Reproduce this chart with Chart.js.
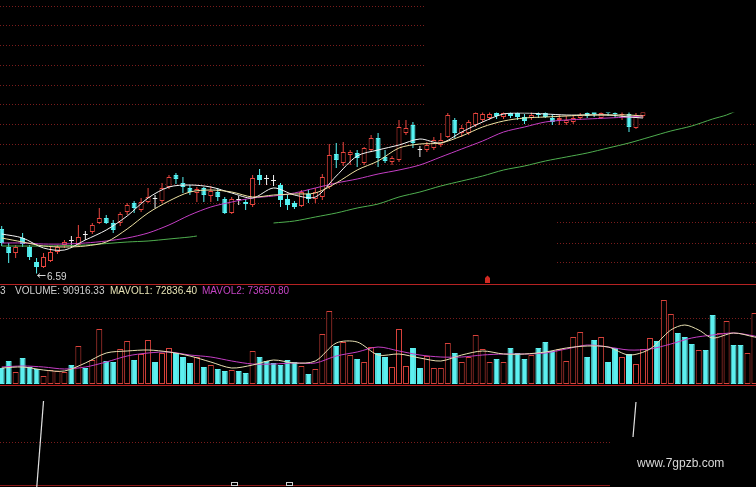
<!DOCTYPE html>
<html>
<head>
<meta charset="utf-8">
<script src="https://cdn.jsdelivr.net/npm/chart.js@4.4.1/dist/chart.umd.min.js"></script>
<style>
  html, body { margin: 0; padding: 0; background: #000; }
  #wrap { position: relative; width: 756px; height: 487px; overflow: hidden; background: #000; }
  canvas { position: absolute; left: 0; display: block; }
</style>
</head>
<body>
<div id="wrap">
  <canvas id="kline" width="756" height="284" style="top:0px"></canvas>
  <canvas id="vol" width="756" height="102" style="top:284px"></canvas>
  <canvas id="ind" width="756" height="101" style="top:386px"></canvas>
</div>
<script>
// ---- daily bars (day 0 = first bar on the left) ----
const openPx = [
  7.48, 7.12, 7.00, 7.30, 7.12, 6.82, 6.72, 6.84, 7.02, 7.16,
  7.24, 7.16, 7.36, 7.42, 7.60, 7.70, 7.60, 7.60, 7.82, 8.00,
  7.86, 8.02, 8.08, 8.04, 8.32, 8.56, 8.40, 8.30, 8.20, 8.30,
  8.14, 8.22, 8.08, 7.80, 8.06, 8.02, 7.96, 8.56, 8.48, 8.44,
  8.36, 8.08, 8.00, 7.94, 8.18, 8.08, 8.12, 8.32, 8.98, 8.80,
  8.96, 9.00, 8.80, 9.06, 9.30, 8.92, 8.82, 8.86, 9.40, 9.56,
  9.06, 9.06, 9.10, 9.16, 9.32, 9.66, 9.40, 9.40, 9.56, 9.66,
  9.70, 9.80, 9.72, 9.80, 9.80, 9.72, 9.70, 9.78, 9.80, 9.70,
  9.66, 9.60, 9.62, 9.70, 9.80, 9.82, 9.70, 9.84, 9.80, 9.76,
  9.78, 9.50, 9.74
];
const highPx = [
  7.54, 7.20, 7.16, 7.40, 7.16, 6.90, 7.00, 7.12, 7.16, 7.26,
  7.34, 7.56, 7.44, 7.60, 7.90, 7.76, 7.66, 7.82, 8.00, 8.04,
  8.10, 8.30, 8.16, 8.40, 8.56, 8.60, 8.52, 8.36, 8.32, 8.32,
  8.34, 8.30, 8.12, 8.12, 8.14, 8.08, 8.56, 8.68, 8.56, 8.56,
  8.40, 8.16, 8.04, 8.26, 8.26, 8.30, 8.58, 9.18, 9.20, 9.22,
  9.06, 9.06, 9.12, 9.36, 9.40, 9.06, 8.94, 9.66, 9.66, 9.62,
  9.14, 9.22, 9.32, 9.40, 9.80, 9.70, 9.56, 9.66, 9.82, 9.84,
  9.86, 9.86, 9.86, 9.86, 9.86, 9.78, 9.82, 9.84, 9.86, 9.76,
  9.76, 9.74, 9.76, 9.80, 9.86, 9.90, 9.86, 9.90, 9.88, 9.86,
  9.82, 9.80, 9.86
];
const lowPx = [
  7.14, 6.80, 6.90, 7.12, 6.86, 6.59, 6.70, 6.82, 6.98, 7.10,
  7.10, 7.14, 7.26, 7.38, 7.58, 7.58, 7.40, 7.54, 7.76, 7.80,
  7.82, 8.00, 7.90, 8.00, 8.28, 8.38, 8.20, 8.16, 8.02, 8.02,
  8.02, 8.04, 7.78, 7.78, 7.96, 7.86, 7.92, 8.36, 8.36, 8.34,
  7.92, 7.86, 7.88, 7.92, 8.00, 8.00, 8.06, 8.28, 8.70, 8.74,
  8.76, 8.72, 8.76, 9.02, 8.72, 8.80, 8.76, 8.82, 9.36, 9.10,
  8.92, 9.02, 9.06, 9.12, 9.30, 9.30, 9.32, 9.36, 9.52, 9.62,
  9.66, 9.68, 9.68, 9.70, 9.66, 9.58, 9.66, 9.70, 9.70, 9.56,
  9.56, 9.56, 9.58, 9.66, 9.70, 9.72, 9.68, 9.74, 9.70, 9.66,
  9.42, 9.48, 9.70
];
const closePx = [
  7.20, 7.00, 7.12, 7.18, 6.92, 6.72, 6.92, 7.02, 7.12, 7.22,
  7.24, 7.32, 7.36, 7.56, 7.70, 7.60, 7.46, 7.78, 7.96, 7.90,
  8.02, 8.12, 8.08, 8.30, 8.52, 8.48, 8.32, 8.22, 8.28, 8.16,
  8.24, 8.12, 7.80, 8.08, 8.06, 7.98, 8.50, 8.46, 8.48, 8.44,
  8.06, 7.96, 7.92, 8.22, 8.08, 8.22, 8.52, 8.96, 8.86, 9.02,
  9.02, 8.90, 9.10, 9.30, 8.90, 8.84, 8.90, 9.52, 9.50, 9.20,
  9.06, 9.16, 9.26, 9.26, 9.76, 9.40, 9.50, 9.62, 9.80, 9.78,
  9.78, 9.74, 9.80, 9.74, 9.72, 9.64, 9.76, 9.76, 9.72, 9.62,
  9.70, 9.66, 9.70, 9.76, 9.74, 9.78, 9.80, 9.80, 9.78, 9.78,
  9.52, 9.76, 9.82
];

// ---- price moving averages, sampled on these days ----
const maDays = [0, 3, 6, 9, 12, 15, 18, 21, 24, 27, 30, 33, 36, 39, 42, 45,
                48, 51, 54, 57, 60, 63, 66, 69, 72, 75, 78, 81, 84, 87, 90, 92];
const ma5 = [7.38, 7.30, 7.10, 7.06, 7.26, 7.46, 7.74, 8.10, 8.32, 8.36, 8.32, 8.20, 8.10, 8.30, 8.16, 8.12,
             8.54, 8.94, 9.06, 9.16, 9.28, 9.20, 9.42, 9.62, 9.78, 9.80, 9.78, 9.76, 9.76, 9.76, 9.72, 9.70];
const ma10 = [7.30, 7.22, 7.14, 7.12, 7.14, 7.22, 7.48, 7.80, 8.04, 8.22, 8.26, 8.22, 8.12, 8.16, 8.18, 8.20,
              8.40, 8.66, 8.84, 9.10, 9.18, 9.20, 9.34, 9.52, 9.64, 9.70, 9.72, 9.74, 9.76, 9.76, 9.76, 9.74];
const ma30 = [7.20, 7.20, 7.18, 7.18, 7.20, 7.24, 7.30, 7.40, 7.56, 7.76, 7.92, 8.02, 8.10, 8.14, 8.20, 8.30,
              8.40, 8.48, 8.58, 8.66, 8.76, 8.92, 9.08, 9.24, 9.42, 9.52, 9.62, 9.66, 9.68, 9.70, 9.72, 9.74];
const ma60aDays = [0, 6, 12, 18, 21, 24, 27, 28];
const ma60a = [7.14, 7.14, 7.16, 7.22, 7.24, 7.28, 7.32, 7.34];
const ma60bDays = [39, 42, 45, 48, 51, 54, 57, 60, 63, 66, 69, 72, 75, 78, 81, 84, 87, 90, 93, 96, 99, 102, 104, 106];
const ma60b = [7.60, 7.64, 7.72, 7.80, 7.90, 7.98, 8.12, 8.22, 8.34, 8.44, 8.54, 8.66, 8.74, 8.84, 8.92, 9.00,
               9.10, 9.20, 9.32, 9.44, 9.54, 9.68, 9.76, 9.88];

// price grid levels
const priceGrid = [11.94, 11.55, 11.15, 10.76, 10.36, 9.97, 9.58, 9.18, 8.79, 8.39, 8.00, 7.61, 7.21, 6.82];

// ---- volume (last entry is the bar under the readout) ----
const volume = [
  25600, 36800, 19200, 41600, 27200, 24000, 12800, 22400, 20800, 19200,
  30400, 60800, 25600, 38400, 88000, 36800, 35200, 56000, 68800, 38400,
  48000, 70400, 35200, 49600, 57600, 49600, 43200, 33600, 43200, 27200,
  30400, 24000, 20800, 22400, 20800, 17600, 52800, 43200, 36800, 33600,
  30400, 38400, 35200, 28800, 16000, 24000, 80000, 116800, 60800, 67200,
  46400, 40000, 35200, 59200, 49600, 43200, 27200, 88000, 28800, 57600,
  25600, 44800, 25600, 25600, 65600, 49600, 35200, 43200, 78400, 56000,
  35200, 40000, 35200, 57600, 49600, 40000, 46400, 57600, 67200, 52800,
  56000, 36800, 75200, 83200, 43200, 70400, 75200, 35200, 57600, 43200,
  48000, 32000, 56000, 73600, 68800, 134400, 112000, 81600, 75200, 64000,
  54400, 54400, 110400, 81600, 100800, 62400, 62400, 49600, 113600, 90916.33
];
// 1 = up day (hollow red), -1 = down day (solid cyan)
const volDir = [
  -1, -1, 1, -1, -1, -1, 1, 1, 1, 1,
  -1, 1, -1, 1, 1, -1, -1, 1, 1, -1,
  1, 1, -1, 1, 1, -1, -1, -1, 1, -1,
  1, -1, -1, 1, -1, -1, 1, -1, -1, -1,
  -1, -1, -1, 1, -1, 1, 1, 1, -1, 1,
  1, -1, 1, 1, -1, -1, 1, 1, 1, -1,
  -1, 1, 1, 1, 1, -1, 1, 1, 1, 1,
  1, -1, 1, -1, -1, -1, 1, -1, -1, -1,
  1, 1, 1, 1, -1, -1, 1, -1, -1, 1,
  -1, 1, 1, 1, -1, 1, 1, -1, -1, -1,
  1, -1, -1, 1, 1, -1, -1, 1, 1, 1
];
const mavol1Days = [0, 3, 6, 9, 12, 15, 18, 21, 24, 27, 30, 33, 36, 39, 42, 45, 48, 51, 54,
                    57, 60, 63, 66, 69, 72, 75, 78, 81, 84, 87, 90, 93, 96, 98, 100, 102, 105, 108, 109];
const mavol1 = [25600, 27200, 22400, 20800, 33600, 49600, 52800, 54400, 51200, 44800, 35200, 25600, 30400,
                38400, 33600, 36800, 65600, 67200, 46400, 48000, 41600, 36800, 46400, 52800, 48000, 48000,
                51200, 57600, 60800, 59200, 46400, 56000, 86400, 94400, 86400, 73600, 81600, 75200, 72836.40];
const mavol2Days = [0, 3, 6, 9, 12, 15, 18, 21, 24, 27, 30, 33, 36, 39, 42, 45, 48, 51, 54,
                    57, 60, 63, 66, 69, 72, 75, 78, 81, 84, 87, 90, 93, 96, 99, 102, 105, 108, 109];
const mavol2 = [27200, 28800, 27200, 24000, 27200, 35200, 44800, 49600, 51200, 46400, 43200, 36800, 32000,
                32000, 33600, 33600, 44800, 51200, 59200, 52800, 46400, 43200, 43200, 46400, 48000, 48000,
                49600, 56000, 62400, 59200, 54400, 56000, 64000, 73600, 78400, 81600, 76800, 73650.80];

// ---- lower indicator pane: the two visible legs of its line ----
const indDaysA = [5, 6];
const indA = [-53, 35.1];
const indDaysB = [90, 91];
const indB = [-47, 34.2];

// ================= drawing =================
const X_MIN = -0.244, X_MAX = 108.22;
const RED = '#e8453e', CYAN = '#55f2f2', DOJI = '#f0f0f0';
const VRED = '#d8423b', VCYAN = '#5cf0f0';
const GRID = '#7a1c1c';
const FONT = '"Liberation Sans", Arial, sans-serif';

const pts = (xs, ys) => xs.map((x, k) => ({ x: x, y: ys[k] }));
const days = openPx.map((_, i) => i);

function candleColor(i) {
  if (closePx[i] > openPx[i]) return RED;
  if (closePx[i] < openPx[i]) return CYAN;
  return DOJI;
}

function dotted(ctx, x0, x1, y, color) {
  ctx.save();
  ctx.strokeStyle = color;
  ctx.lineWidth = 1;
  ctx.setLineDash([1, 2]);
  ctx.beginPath();
  ctx.moveTo(x0, Math.round(y) + 0.5);
  ctx.lineTo(x1, Math.round(y) + 0.5);
  ctx.stroke();
  ctx.restore();
}

const hiddenAxis = (min, max) => ({ type: 'linear', min: min, max: max, display: false, offset: false });
const baseOptions = (ymin, ymax) => ({
  responsive: false,
  animation: false,
  devicePixelRatio: 1,
  events: [],
  layout: { padding: 0 },
  plugins: { legend: { display: false }, tooltip: { enabled: false } },
  scales: { x: hiddenAxis(X_MIN, X_MAX), y: hiddenAxis(ymin, ymax) }
});
const maLine = (data, color, order) => ({
  type: 'line', data: data, borderColor: color, borderWidth: 1,
  pointRadius: 0, tension: 0.3, order: order, spanGaps: false
});

// ---- price pane ----
new Chart(document.getElementById('kline'), {
  type: 'bar',
  data: {
    datasets: [
      {
        type: 'bar', order: 3, grouped: false, barThickness: 1, inflateAmount: 0,
        data: days.map(i => ({ x: i, y: [lowPx[i], highPx[i]] })),
        backgroundColor: c => candleColor(c.dataIndex), borderWidth: 0
      },
      {
        type: 'bar', order: 2, grouped: false, barThickness: 5, minBarLength: 1, inflateAmount: 0,
        data: days.map(i => ({ x: i, y: [openPx[i], closePx[i]] })),
        backgroundColor: c => candleColor(c.dataIndex) === RED ? '#000000' : candleColor(c.dataIndex),
        borderColor: c => candleColor(c.dataIndex),
        borderWidth: 1, borderSkipped: false
      },
      maLine(pts(ma60aDays, ma60a), '#4fae4f', 1),
      maLine(pts(ma60bDays, ma60b), '#4fae4f', 1),
      maLine(pts(maDays, ma30), '#c43ec4', 1),
      maLine(pts(maDays, ma10), '#eee2a2', 0),
      maLine(pts(maDays, ma5), '#f4f4f4', 0)
    ]
  },
  options: baseOptions(6.38, 12.06),
  plugins: [{
    id: 'priceDecor',
    beforeDatasetsDraw(chart) {
      const ctx = chart.ctx, y = chart.scales.y;
      priceGrid.forEach(v => {
        const py = y.getPixelForValue(v);
        if (py < 112) dotted(ctx, 0, 425, py, GRID);
        else if (py < 212) dotted(ctx, 0, 756, py, GRID);
        else dotted(ctx, 557, 756, py, GRID);
      });
    },
    afterDatasetsDraw(chart) {
      const ctx = chart.ctx, x = chart.scales.x, y = chart.scales.y;
      ctx.save();
      // blank upper-right block
      ctx.fillStyle = '#000';
      ctx.fillRect(425, 0, 331, 112.5);

      // lowest low marker
      const lowVal = Math.min(...lowPx);
      const li = lowPx.indexOf(lowVal);
      const px = x.getPixelForValue(li), py = y.getPixelForValue(lowVal);
      ctx.strokeStyle = '#d8d8d8';
      ctx.lineWidth = 1;
      ctx.beginPath();
      ctx.moveTo(px + 1, py + 2); ctx.lineTo(px + 9, py + 2);
      ctx.moveTo(px + 1, py + 2); ctx.lineTo(px + 3.5, py);
      ctx.moveTo(px + 1, py + 2); ctx.lineTo(px + 3.5, py + 4);
      ctx.stroke();
      ctx.fillStyle = '#d8d8d8';
      ctx.font = '10px ' + FONT;
      ctx.textBaseline = 'alphabetic';
      ctx.fillText(lowVal.toFixed(2), px + 10.5, py + 6);

      // small red flag above the pane divider
      ctx.fillStyle = '#d02a22';
      ctx.beginPath();
      ctx.moveTo(485, 283); ctx.lineTo(485, 278); ctx.lineTo(487.5, 275.5);
      ctx.lineTo(490, 278); ctx.lineTo(490, 283); ctx.closePath();
      ctx.fill();
      ctx.restore();
    }
  }]
});

// ---- volume pane ----
new Chart(document.getElementById('vol'), {
  type: 'bar',
  data: {
    datasets: [
      {
        type: 'bar', order: 1, grouped: false, barThickness: 6, inflateAmount: 0,
        data: volume.map((v, i) => ({ x: i, y: v })),
        backgroundColor: c => volDir[c.dataIndex] > 0 ? '#000000' : VCYAN,
        borderColor: c => volDir[c.dataIndex] > 0 ? VRED : VCYAN,
        borderWidth: 1, borderSkipped: false
      },
      maLine(pts(mavol1Days, mavol1), '#e8e0b2', 0),
      maLine(pts(mavol2Days, mavol2), '#c43ec4', 0)
    ]
  },
  options: baseOptions(-3200, 160000),
  plugins: [{
    id: 'volDecor',
    beforeDatasetsDraw(chart) {
      const ctx = chart.ctx, y = chart.scales.y;
      dotted(ctx, 0, 756, y.getPixelForValue(105600), GRID);
    },
    afterDatasetsDraw(chart) {
      const ctx = chart.ctx;
      ctx.save();
      ctx.strokeStyle = '#b52222';
      ctx.lineWidth = 1;
      ctx.beginPath();
      ctx.moveTo(0, 0.5); ctx.lineTo(756, 0.5);
      ctx.moveTo(0, 101.5); ctx.lineTo(756, 101.5);
      ctx.stroke();

      ctx.font = '10px ' + FONT;
      ctx.textBaseline = 'alphabetic';
      ctx.fillStyle = '#cfcfcf';
      ctx.fillText('3', 0, 10);
      ctx.fillText('VOLUME: ' + volume[volume.length - 1].toFixed(2), 15, 10);
      ctx.fillStyle = '#e6e2b4';
      ctx.fillText('MAVOL1: ' + mavol1[mavol1.length - 1].toFixed(2), 110, 10);
      ctx.fillStyle = '#c444c4';
      ctx.fillText('MAVOL2: ' + mavol2[mavol2.length - 1].toFixed(2), 202, 10);
      ctx.restore();
    }
  }]
});

// ---- lower indicator pane ----
new Chart(document.getElementById('ind'), {
  type: 'line',
  data: {
    datasets: [
      { data: pts(indDaysA, indA), borderColor: '#e2e2e2', borderWidth: 1.2, pointRadius: 0, tension: 0 },
      { data: pts(indDaysB, indB), borderColor: '#e2e2e2', borderWidth: 1.2, pointRadius: 0, tension: 0 }
    ]
  },
  options: baseOptions(-50, 50),
  plugins: [{
    id: 'indDecor',
    beforeDatasetsDraw(chart) {
      const ctx = chart.ctx;
      dotted(ctx, 0, 610, 56, GRID);
      ctx.save();
      ctx.strokeStyle = '#8a1818';
      ctx.lineWidth = 1;
      ctx.beginPath();
      ctx.moveTo(0, 99.5); ctx.lineTo(610, 99.5);
      ctx.stroke();
      ctx.restore();
    },
    afterDatasetsDraw(chart) {
      const ctx = chart.ctx;
      ctx.save();
      ctx.fillStyle = '#000';
      ctx.fillRect(610, 51, 146, 50);
      ctx.strokeStyle = '#cfcfcf';
      ctx.lineWidth = 1;
      ctx.strokeRect(231.5, 96.5, 6, 3);
      ctx.strokeRect(286.5, 96.5, 6, 3);
      ctx.fillStyle = '#d8d8d8';
      ctx.font = '12px ' + FONT;
      ctx.textBaseline = 'alphabetic';
      ctx.fillText('www.7gpzb.com', 637, 81);
      ctx.restore();
    }
  }]
});
</script>
</body>
</html>
